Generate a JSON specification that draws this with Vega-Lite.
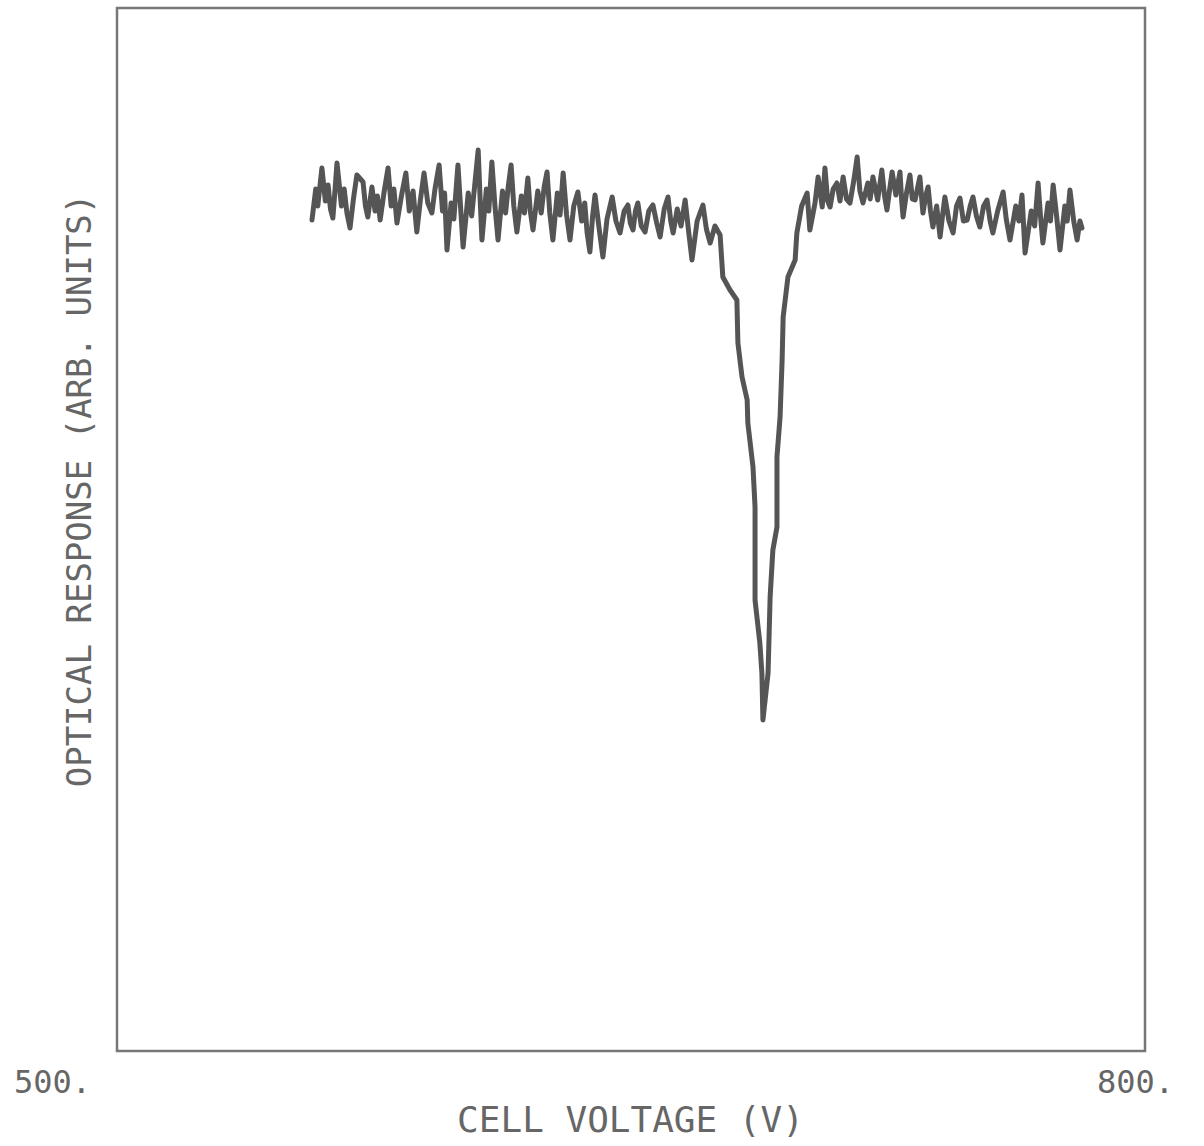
{
  "$schema": "https://vega.github.io/schema/vega-lite/v6.json",
  "width": 1028,
  "height": 1043,
  "autosize": "none",
  "padding": {"left": 117, "top": 8, "right": 59, "bottom": 95},
  "background": "white",
  "config": {
    "view": {"stroke": "#777777", "strokeWidth": 2.5},
    "font": "DejaVu Sans Mono"
  },
  "data": {
    "values": [
      {"v": 556.9, "r": 831}, {"v": 558.0, "r": 862}, {"v": 558.6, "r": 845}, {"v": 559.8, "r": 883},
      {"v": 560.8, "r": 850}, {"v": 561.6, "r": 866}, {"v": 562.3, "r": 842}, {"v": 563.0, "r": 833},
      {"v": 563.6, "r": 860}, {"v": 564.2, "r": 888}, {"v": 565.5, "r": 845}, {"v": 566.3, "r": 862},
      {"v": 567.1, "r": 838}, {"v": 568.0, "r": 823}, {"v": 569.0, "r": 852}, {"v": 570.0, "r": 876},
      {"v": 571.8, "r": 869}, {"v": 572.5, "r": 845}, {"v": 573.2, "r": 834}, {"v": 574.4, "r": 864},
      {"v": 575.3, "r": 840}, {"v": 576.0, "r": 855}, {"v": 576.8, "r": 831}, {"v": 577.9, "r": 858},
      {"v": 579.1, "r": 883}, {"v": 580.0, "r": 845}, {"v": 580.8, "r": 862}, {"v": 581.7, "r": 828},
      {"v": 583.0, "r": 855}, {"v": 584.3, "r": 878}, {"v": 585.3, "r": 840}, {"v": 586.4, "r": 860},
      {"v": 587.5, "r": 819}, {"v": 588.5, "r": 850}, {"v": 589.6, "r": 878}, {"v": 590.7, "r": 848},
      {"v": 591.9, "r": 838}, {"v": 592.8, "r": 862}, {"v": 594.0, "r": 886}, {"v": 595.0, "r": 840},
      {"v": 595.6, "r": 858}, {"v": 596.3, "r": 801}, {"v": 597.5, "r": 848}, {"v": 598.3, "r": 832},
      {"v": 599.5, "r": 886}, {"v": 600.3, "r": 842}, {"v": 601.0, "r": 804}, {"v": 602.5, "r": 858},
      {"v": 603.5, "r": 835}, {"v": 604.4, "r": 866}, {"v": 605.4, "r": 901}, {"v": 606.0, "r": 850},
      {"v": 606.5, "r": 811}, {"v": 607.8, "r": 862}, {"v": 608.5, "r": 840}, {"v": 609.4, "r": 889},
      {"v": 610.3, "r": 845}, {"v": 611.2, "r": 811}, {"v": 612.5, "r": 860}, {"v": 613.4, "r": 838},
      {"v": 614.2, "r": 865}, {"v": 615.0, "r": 886}, {"v": 615.8, "r": 845}, {"v": 616.7, "r": 819},
      {"v": 618.0, "r": 855}, {"v": 618.9, "r": 838}, {"v": 619.9, "r": 873}, {"v": 620.6, "r": 840},
      {"v": 621.4, "r": 821}, {"v": 622.8, "r": 860}, {"v": 623.8, "r": 838}, {"v": 624.7, "r": 865},
      {"v": 625.5, "r": 879}, {"v": 626.3, "r": 838}, {"v": 627.2, "r": 811}, {"v": 628.5, "r": 858},
      {"v": 629.3, "r": 836}, {"v": 630.2, "r": 878}, {"v": 631.2, "r": 836}, {"v": 632.2, "r": 811},
      {"v": 633.3, "r": 845}, {"v": 634.5, "r": 859}, {"v": 635.6, "r": 830}, {"v": 636.5, "r": 848},
      {"v": 637.2, "r": 818}, {"v": 638.0, "r": 799}, {"v": 638.8, "r": 835}, {"v": 639.5, "r": 856},
      {"v": 640.6, "r": 825}, {"v": 641.8, "r": 794}, {"v": 643.0, "r": 832}, {"v": 644.5, "r": 854},
      {"v": 645.6, "r": 830}, {"v": 646.8, "r": 818}, {"v": 648.0, "r": 840}, {"v": 649.1, "r": 846},
      {"v": 649.8, "r": 828}, {"v": 650.6, "r": 821}, {"v": 651.3, "r": 840}, {"v": 652.0, "r": 848},
      {"v": 653.0, "r": 825}, {"v": 654.1, "r": 819}, {"v": 655.2, "r": 840}, {"v": 656.4, "r": 846},
      {"v": 657.5, "r": 828}, {"v": 658.5, "r": 814}, {"v": 659.7, "r": 842}, {"v": 660.8, "r": 854},
      {"v": 661.6, "r": 830}, {"v": 662.3, "r": 818}, {"v": 663.5, "r": 842}, {"v": 664.6, "r": 825},
      {"v": 665.8, "r": 851}, {"v": 666.8, "r": 820}, {"v": 667.8, "r": 791}, {"v": 669.3, "r": 830},
      {"v": 671.0, "r": 846}, {"v": 672.0, "r": 822}, {"v": 673.1, "r": 808}, {"v": 674.5, "r": 825},
      {"v": 676.0, "r": 816}, {"v": 676.8, "r": 774}, {"v": 678.9, "r": 761}, {"v": 680.9, "r": 751},
      {"v": 681.2, "r": 708}, {"v": 682.4, "r": 674}, {"v": 683.9, "r": 651}, {"v": 684.1, "r": 628},
      {"v": 685.6, "r": 584}, {"v": 686.2, "r": 544}, {"v": 686.2, "r": 451}, {"v": 687.6, "r": 408},
      {"v": 688.2, "r": 378}, {"v": 688.5, "r": 331}, {"v": 690.0, "r": 378}, {"v": 690.6, "r": 454},
      {"v": 691.4, "r": 501}, {"v": 692.6, "r": 524}, {"v": 692.6, "r": 594}, {"v": 693.5, "r": 634},
      {"v": 694.1, "r": 691}, {"v": 694.4, "r": 734}, {"v": 695.8, "r": 774}, {"v": 697.9, "r": 791},
      {"v": 698.4, "r": 818}, {"v": 699.8, "r": 845}, {"v": 701.4, "r": 858}, {"v": 702.2, "r": 821},
      {"v": 703.7, "r": 848}, {"v": 704.6, "r": 874}, {"v": 705.8, "r": 844}, {"v": 706.6, "r": 883},
      {"v": 707.4, "r": 850}, {"v": 708.1, "r": 844}, {"v": 709.0, "r": 862}, {"v": 710.1, "r": 868},
      {"v": 711.0, "r": 850}, {"v": 711.9, "r": 874}, {"v": 712.9, "r": 852}, {"v": 713.9, "r": 848},
      {"v": 715.0, "r": 870}, {"v": 716.0, "r": 894}, {"v": 716.8, "r": 860}, {"v": 717.7, "r": 848},
      {"v": 719.1, "r": 868}, {"v": 719.8, "r": 852}, {"v": 720.6, "r": 874}, {"v": 722.0, "r": 851},
      {"v": 723.2, "r": 881}, {"v": 724.0, "r": 855}, {"v": 724.7, "r": 841}, {"v": 725.5, "r": 862},
      {"v": 726.2, "r": 879}, {"v": 727.3, "r": 856}, {"v": 728.5, "r": 879}, {"v": 729.0, "r": 850},
      {"v": 729.4, "r": 834}, {"v": 730.4, "r": 858}, {"v": 731.4, "r": 876}, {"v": 732.1, "r": 852},
      {"v": 732.9, "r": 851}, {"v": 734.3, "r": 874}, {"v": 735.2, "r": 838}, {"v": 736.0, "r": 855},
      {"v": 736.7, "r": 864}, {"v": 737.4, "r": 840}, {"v": 738.1, "r": 824}, {"v": 739.2, "r": 845},
      {"v": 740.2, "r": 814}, {"v": 741.0, "r": 838}, {"v": 741.6, "r": 854}, {"v": 742.8, "r": 830},
      {"v": 744.0, "r": 818}, {"v": 745.0, "r": 845}, {"v": 746.0, "r": 853}, {"v": 747.0, "r": 830},
      {"v": 748.1, "r": 831}, {"v": 749.0, "r": 845}, {"v": 749.8, "r": 854}, {"v": 750.8, "r": 835},
      {"v": 751.8, "r": 824}, {"v": 752.9, "r": 845}, {"v": 753.9, "r": 851}, {"v": 754.8, "r": 830},
      {"v": 755.6, "r": 818}, {"v": 757.0, "r": 840}, {"v": 758.6, "r": 859}, {"v": 759.5, "r": 832},
      {"v": 760.6, "r": 811}, {"v": 762.3, "r": 845}, {"v": 763.2, "r": 830}, {"v": 764.1, "r": 856},
      {"v": 765.0, "r": 798}, {"v": 766.8, "r": 840}, {"v": 767.8, "r": 825}, {"v": 768.8, "r": 868},
      {"v": 769.5, "r": 835}, {"v": 770.2, "r": 808}, {"v": 771.7, "r": 848}, {"v": 772.4, "r": 830},
      {"v": 773.2, "r": 866}, {"v": 774.2, "r": 835}, {"v": 775.2, "r": 801}, {"v": 776.6, "r": 845},
      {"v": 777.3, "r": 830}, {"v": 778.1, "r": 861}, {"v": 779.2, "r": 830}, {"v": 780.2, "r": 811},
      {"v": 781.0, "r": 830}, {"v": 781.6, "r": 823}
    ]
  },
  "mark": {"type": "line", "color": "#555555", "strokeWidth": 5, "strokeJoin": "round", "strokeCap": "round", "clip": true},
  "encoding": {
    "x": {
      "field": "v", "type": "quantitative", "sort": null,
      "scale": {"domain": [500, 800], "nice": false, "zero": false},
      "axis": {
        "title": "CELL VOLTAGE (V)",
        "values": [500, 800],
        "format": ".0f",
        "labelExpr": "datum.label + '.'",
        "domain": false, "ticks": false, "grid": false,
        "labelFont": "DejaVu Sans Mono", "labelFontSize": 32, "labelColor": "#666666",
        "labelAlign": "center", "labelBaseline": "top", "labelPadding": 16,
        "labelOffset": {"condition": {"test": "datum.value == 500", "value": -65}, "value": -10},
        "labelFlush": false, "labelOverlap": false,
        "titleFont": "DejaVu Sans Mono", "titleFontSize": 36, "titleFontWeight": "normal", "titleColor": "#666666",
        "titleX": 513, "titleY": 69, "titleBaseline": "middle", "titleAlign": "center"
      }
    },
    "y": {
      "field": "r", "type": "quantitative",
      "scale": {"domain": [0, 1043], "nice": false, "zero": false},
      "axis": {
        "title": "OPTICAL RESPONSE (ARB. UNITS)",
        "labels": false, "domain": false, "ticks": false, "grid": false,
        "titleFont": "DejaVu Sans Mono", "titleFontSize": 34, "titleFontWeight": "normal", "titleColor": "#666666",
        "titleAngle": -90, "titleX": -37, "titleY": 482, "titleBaseline": "middle", "titleAlign": "center"
      }
    }
  }
}
